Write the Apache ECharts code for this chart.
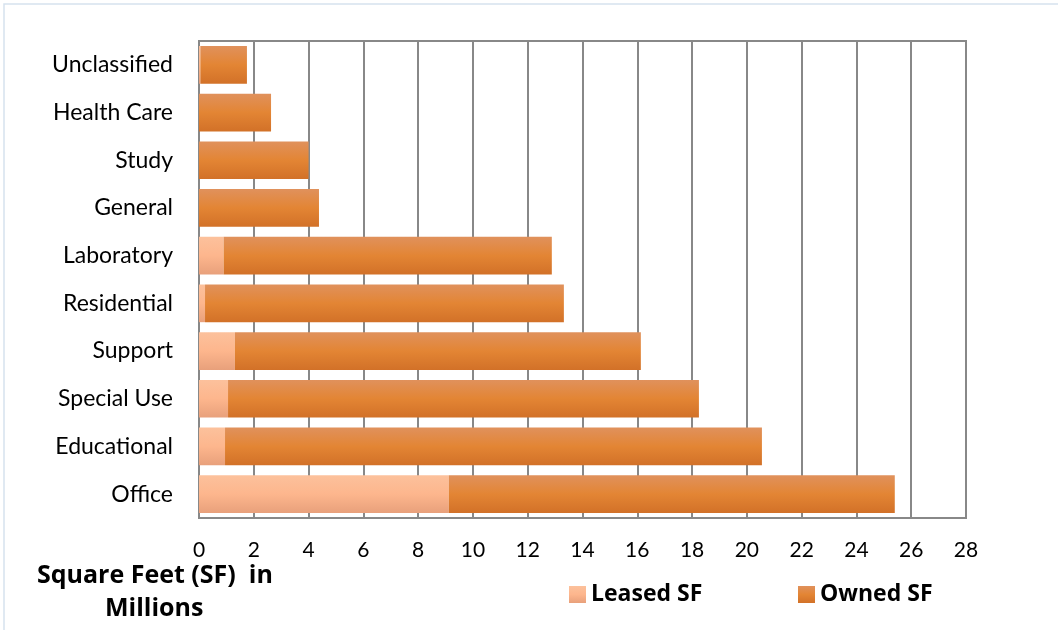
<!DOCTYPE html>
<html>
<head>
<meta charset="utf-8">
<script src="https://cdn.jsdelivr.net/npm/echarts@6/dist/echarts.min.js"></script>
<style>
  html, body { margin: 0; padding: 0; background: #fff; }
  #chart { width: 1058px; height: 630px; }
</style>
</head>
<body>
<div id="chart"></div>
<script>
// Space types, listed bottom to top as the category axis draws them
const categories = ['Office', 'Educational', 'Special Use', 'Support', 'Residential',
  'Laboratory', 'General', 'Study', 'Health Care', 'Unclassified'];
// Square feet in millions
const leasedSF = [9.12, 0.95, 1.06, 1.31, 0.22, 0.90, 0, 0, 0, 0.05];
const ownedSF = [16.28, 19.60, 17.19, 14.82, 13.10, 11.98, 4.38, 4.00, 2.63, 1.70];
const xTicks = { min: 0, max: 28, interval: 2 };

const FONT = 'Lato, "Open Sans", sans-serif';
const BOLD_FONT = '"Open Sans", Lato, sans-serif';

function vGrad(top, mid, bottom) {
  return new echarts.graphic.LinearGradient(0, 0, 0, 1, [
    { offset: 0, color: top },
    { offset: 0.5, color: mid },
    { offset: 1, color: bottom }
  ]);
}

const chart = echarts.init(document.getElementById('chart'), null, { renderer: 'canvas' });

const legendText = { fontFamily: BOLD_FONT, fontSize: 23, fontWeight: 'bold', color: '#000' };

chart.setOption({
  backgroundColor: '#ffffff',
  animation: false,
  grid: {
    left: 199, right: 92, top: 41, bottom: 112,
    show: true, borderColor: '#888888', borderWidth: 2
  },
  legend: [
    {
      data: ['Leased SF'], left: 564, top: 578, icon: 'rect',
      itemWidth: 17, itemHeight: 17, itemGap: 6, textStyle: legendText
    },
    {
      data: ['Owned SF'], left: 793, top: 578, icon: 'rect',
      itemWidth: 17, itemHeight: 17, itemGap: 6, textStyle: legendText
    }
  ],
  xAxis: {
    type: 'value',
    min: xTicks.min, max: xTicks.max, interval: xTicks.interval,
    axisLine: { show: true, lineStyle: { color: '#888888', width: 2 } },
    axisTick: { show: false },
    axisLabel: { fontFamily: FONT, fontSize: 21, color: '#000', margin: 22 },
    splitLine: { show: true, lineStyle: { color: '#888888', width: 2 } }
  },
  yAxis: {
    type: 'category',
    data: categories,
    axisLine: { show: true, lineStyle: { color: '#888888', width: 2 } },
    axisTick: { show: false },
    axisLabel: { fontFamily: FONT, fontSize: 23, color: '#000', margin: 26 }
  },
  series: [
    {
      name: 'Leased SF', type: 'bar', stack: 'sf',
      data: leasedSF, barCategoryGap: '21%',
      itemStyle: { color: vGrad('#fcc19c', '#fdb68d', '#e8a07b') }
    },
    {
      name: 'Owned SF', type: 'bar', stack: 'sf',
      data: ownedSF, barCategoryGap: '21%',
      itemStyle: { color: vGrad('#e0915c', '#e38534', '#d27128') }
    }
  ],
  graphic: [
    {
      type: 'rect', silent: true, z: -1,
      shape: { x: 4, y: 4, width: 1100, height: 700 },
      style: { fill: 'none', stroke: '#d6e2ee', lineWidth: 1.5 }
    },
    {
      type: 'text', left: 37, top: 563,
      style: { text: 'Square Feet (SF)  in', fontFamily: BOLD_FONT, fontSize: 25, fontWeight: 'bold', fill: '#000' }
    },
    {
      type: 'text', left: 105, top: 596,
      style: { text: 'Millions', fontFamily: BOLD_FONT, fontSize: 25, fontWeight: 'bold', fill: '#000' }
    }
  ]
});
</script>
</body>
</html>
